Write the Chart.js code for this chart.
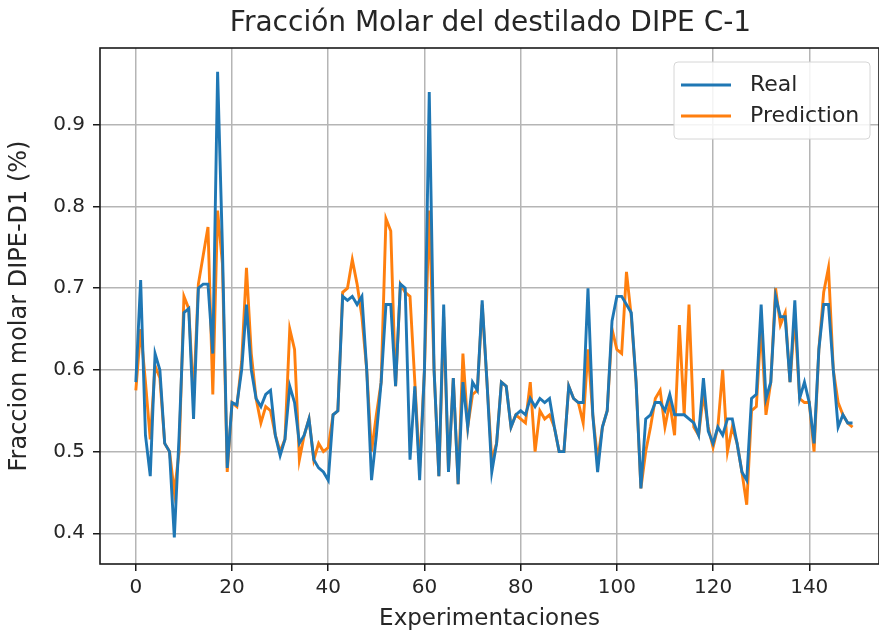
<!DOCTYPE html>
<html>
<head>
<meta charset="utf-8">
<script src="https://cdn.jsdelivr.net/npm/chart.js@4"></script>
<style>
  html, body { margin: 0; padding: 0; background: #fff; }
  #wrap { width: 879px; height: 637px; }
</style>
</head>
<body>
<div id="wrap"><canvas id="molarChart"></canvas></div>
<script>
// ============================================
// DATA
// ============================================

const chartTitle = "Fracción Molar del destilado DIPE C-1";
const xTitle = "Experimentaciones";
const yTitle = "Fraccion molar DIPE-D1 (%)";

const seriesNames = ["Real", "Prediction"];

const realValues = [
  0.585, 0.71, 0.52, 0.47, 0.62, 0.60, 0.51, 0.50, 0.395, 0.52,
  0.67, 0.675, 0.54, 0.70, 0.705, 0.705, 0.62, 0.965, 0.75, 0.48,
  0.56, 0.557, 0.60, 0.68, 0.60, 0.565, 0.555, 0.57, 0.575, 0.52,
  0.495, 0.515, 0.58, 0.56, 0.51, 0.52, 0.54, 0.49, 0.48, 0.475,
  0.465, 0.545, 0.55, 0.69, 0.685, 0.69, 0.68, 0.69, 0.60, 0.465,
  0.52, 0.585, 0.68, 0.68, 0.58, 0.705, 0.70, 0.49, 0.58, 0.465,
  0.60, 0.94, 0.60, 0.47, 0.68, 0.475, 0.59, 0.46, 0.585, 0.53,
  0.585, 0.575, 0.685, 0.585, 0.475, 0.51, 0.585, 0.58, 0.53, 0.545,
  0.55, 0.545, 0.565, 0.555, 0.565, 0.56, 0.565, 0.53, 0.50, 0.50,
  0.58, 0.565, 0.56, 0.56, 0.70, 0.545, 0.475, 0.53, 0.55, 0.66,
  0.69, 0.69, 0.68, 0.67, 0.585, 0.455, 0.54, 0.545, 0.56, 0.56,
  0.55, 0.57, 0.545, 0.545, 0.545, 0.54, 0.535, 0.52, 0.59, 0.525,
  0.51, 0.53, 0.52, 0.54, 0.54, 0.51, 0.475, 0.465, 0.565, 0.57,
  0.68, 0.565, 0.585, 0.69, 0.665, 0.665, 0.585, 0.685, 0.565, 0.585,
  0.56, 0.51, 0.625, 0.68, 0.68, 0.60, 0.53, 0.545, 0.535, 0.535
];

const predictionValues = [
  0.575, 0.65, 0.585, 0.515, 0.605, 0.59, 0.51, 0.50, 0.45, 0.50,
  0.69, 0.675, 0.565, 0.705, 0.74, 0.775, 0.57, 0.795, 0.73, 0.475,
  0.56, 0.555, 0.61, 0.725, 0.62, 0.565, 0.535, 0.555, 0.55, 0.52,
  0.50, 0.515, 0.65, 0.625, 0.49, 0.52, 0.54, 0.49, 0.51, 0.50,
  0.505, 0.545, 0.55, 0.695, 0.70, 0.735, 0.705, 0.665, 0.60, 0.50,
  0.545, 0.585, 0.785, 0.77, 0.58, 0.705, 0.695, 0.69, 0.585, 0.48,
  0.60, 0.795, 0.60, 0.47, 0.665, 0.475, 0.59, 0.46, 0.62, 0.53,
  0.57, 0.575, 0.68, 0.585, 0.49, 0.51, 0.585, 0.58, 0.53, 0.545,
  0.54, 0.535, 0.585, 0.50, 0.55, 0.54, 0.545, 0.53, 0.50, 0.50,
  0.58, 0.565, 0.56, 0.535, 0.625, 0.545, 0.49, 0.53, 0.55, 0.65,
  0.625, 0.62, 0.72, 0.665, 0.585, 0.455, 0.50, 0.53, 0.565, 0.575,
  0.53, 0.56, 0.52, 0.655, 0.545, 0.68, 0.53, 0.52, 0.57, 0.53,
  0.505, 0.53, 0.60, 0.50, 0.53, 0.51, 0.475, 0.435, 0.55, 0.555,
  0.655, 0.545, 0.585, 0.70, 0.655, 0.67, 0.585, 0.665, 0.565, 0.56,
  0.56, 0.50, 0.625, 0.695, 0.725, 0.60, 0.56, 0.545, 0.535, 0.53
];

const xTicks = [0, 20, 40, 60, 80, 100, 120, 140];
const yTicks = [0.4, 0.5, 0.6, 0.7, 0.8, 0.9];

// ============================================
// CHART
// ============================================

const blue = "#1f77b4";
const orange = "#ff7f0e";
const textColor = "#262626";
const fontFamily = "'DejaVu Sans', sans-serif";

function toPoints(values) {
  return values.map(function (v, i) { return { x: i, y: v }; });
}

// spines on all four sides, like matplotlib
const framePlugin = {
  id: "frame",
  afterDraw(chart) {
    const a = chart.chartArea;
    const ctx = chart.ctx;
    ctx.save();
    ctx.strokeStyle = "#1a1a1a";
    ctx.lineWidth = 1.6;
    ctx.strokeRect(a.left, a.top, a.right - a.left, a.bottom - a.top);
    ctx.restore();
  }
};

// title centred over the axes, as matplotlib does it
const axesTitle = {
  id: "axesTitle",
  afterDraw(chart) {
    const a = chart.chartArea;
    const ctx = chart.ctx;
    ctx.save();
    ctx.font = "28px " + fontFamily;
    ctx.fillStyle = textColor;
    ctx.textAlign = "center";
    ctx.textBaseline = "middle";
    ctx.fillText(chartTitle, (a.left + a.right + 2) / 2, 24);
    ctx.restore();
  }
};

// boxed legend in the upper right corner
const boxLegend = {
  id: "boxLegend",
  afterDraw(chart) {
    const a = chart.chartArea;
    const ctx = chart.ctx;
    const w = 196, h = 77;
    const x = a.right - 9 - w, y = a.top + 14;
    ctx.save();
    ctx.fillStyle = "rgba(255,255,255,0.85)";
    ctx.strokeStyle = "#d6d6d6";
    ctx.lineWidth = 1;
    ctx.beginPath();
    ctx.roundRect(x, y, w, h, 4);
    ctx.fill();
    ctx.stroke();
    ctx.font = "22px " + fontFamily;
    ctx.textBaseline = "middle";
    chart.data.datasets.forEach(function (ds, k) {
      const cy = y + 23 + k * 31;
      ctx.strokeStyle = ds.borderColor;
      ctx.lineWidth = 3;
      ctx.beginPath();
      ctx.moveTo(x + 7, cy);
      ctx.lineTo(x + 57, cy);
      ctx.stroke();
      ctx.fillStyle = textColor;
      ctx.fillText(ds.label, x + 76, cy);
    });
    ctx.restore();
  }
};

const molarChart = new Chart(
  document.getElementById("molarChart"),
  {
    type: "line",

    data: {
      datasets: [
        {
          label: seriesNames[0],
          data: toPoints(realValues),
          borderColor: blue,
          backgroundColor: blue,
          borderWidth: 2.9,
          pointRadius: 0,
          tension: 0
        },
        {
          label: seriesNames[1],
          data: toPoints(predictionValues),
          borderColor: orange,
          backgroundColor: orange,
          borderWidth: 2.9,
          pointRadius: 0,
          tension: 0
        }
      ]
    },

    options: {
      responsive: true,
      maintainAspectRatio: false,
      animation: false,
      layout: {
        padding: { right: 0, top: 48, bottom: 0, left: 0 }
      },
      plugins: {
        legend: { display: false },
        tooltip: { enabled: false },
        title: { display: false }
      },
      scales: {
        x: {
          type: "linear",
          min: -7.45,
          max: 154.5,
          afterBuildTicks(scale) {
            scale.ticks = xTicks.map(function (v) { return { value: v }; });
          },
          afterFit(scale) {
            scale.height = 73;
          },
          ticks: {
            color: textColor,
            font: { family: fontFamily, size: 20 },
            padding: 5
          },
          grid: {
            color: "#b5b5b5",
            lineWidth: 1.5,
            tickColor: "#1a1a1a",
            tickLength: 7
          },
          border: { display: false },
          title: {
            display: true,
            text: xTitle,
            color: textColor,
            font: { family: fontFamily, size: 23 },
            padding: { top: 0 }
          }
        },
        y: {
          min: 0.3624,
          max: 0.994,
          afterBuildTicks(scale) {
            scale.ticks = yTicks.map(function (v) { return { value: v }; });
          },
          afterFit(scale) {
            scale.width = 100;
          },
          ticks: {
            color: textColor,
            font: { family: fontFamily, size: 20 },
            padding: 8,
            callback: function (v) { return v.toFixed(1); }
          },
          grid: {
            color: "#b5b5b5",
            lineWidth: 1.5,
            tickColor: "#1a1a1a",
            tickLength: 7
          },
          border: { display: false },
          title: {
            display: true,
            text: yTitle,
            color: textColor,
            font: { family: fontFamily, size: 24 },
            padding: { top: 5, bottom: 2 }
          }
        }
      }
    },

    plugins: [framePlugin, axesTitle, boxLegend]
  }
);
</script>
</body>
</html>
